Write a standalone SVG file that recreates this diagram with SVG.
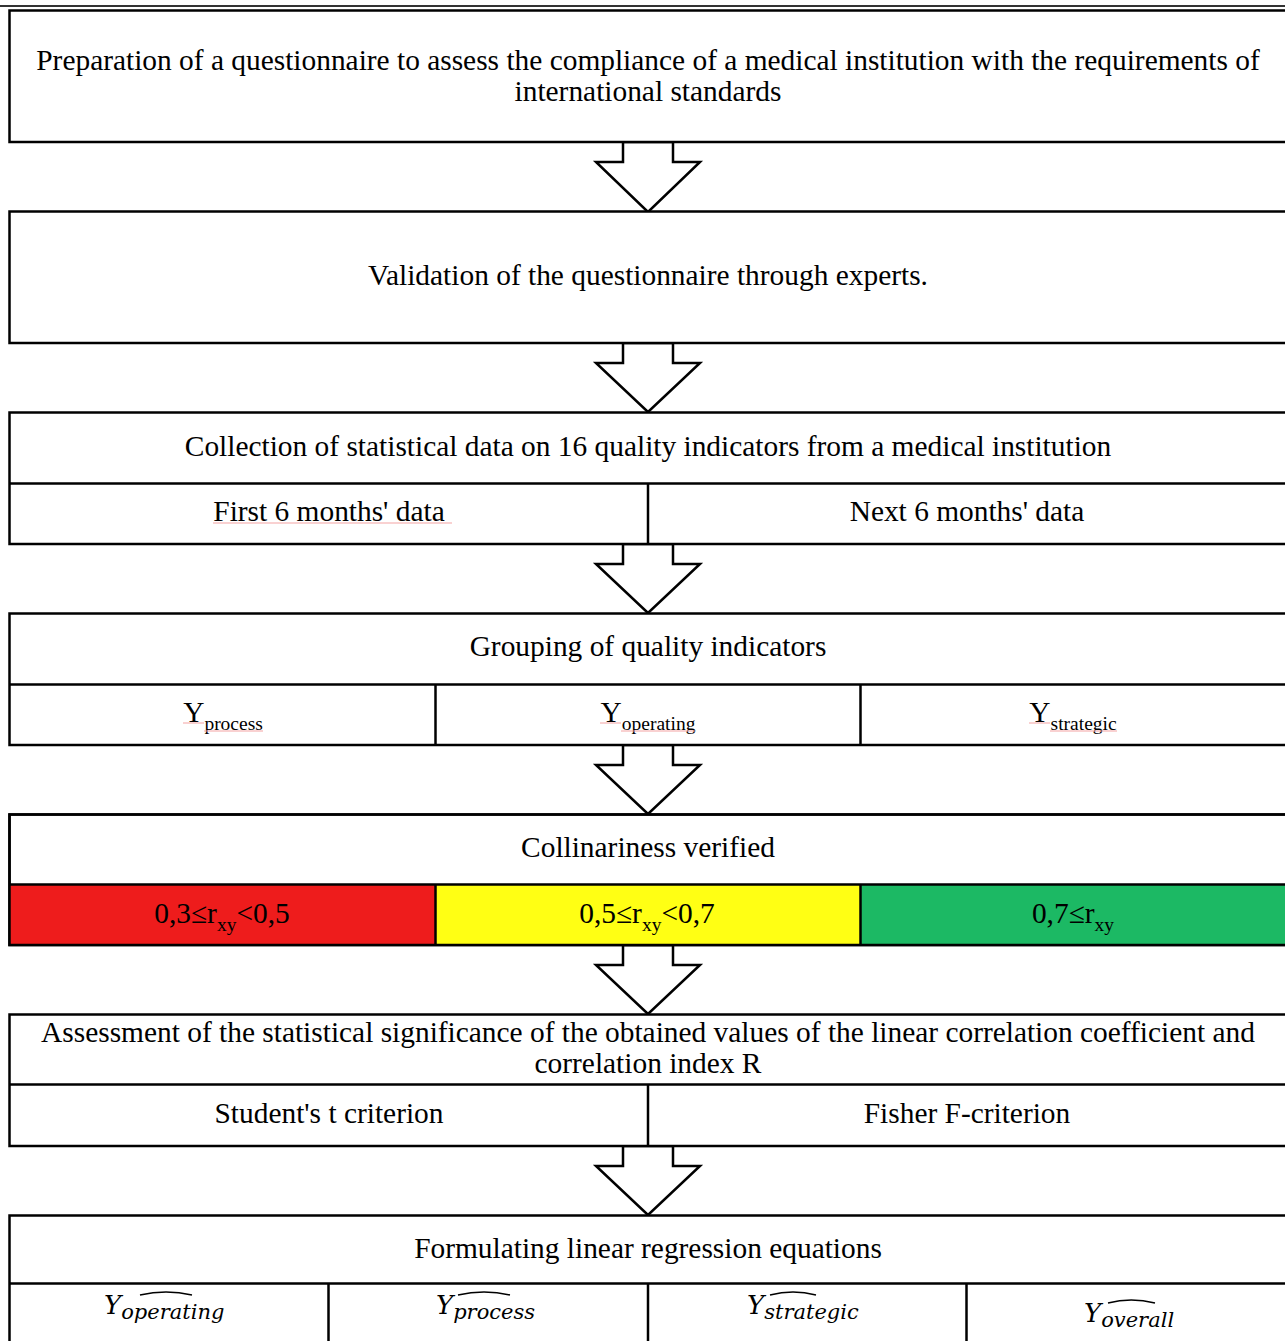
<svg xmlns="http://www.w3.org/2000/svg" width="1285" height="1341" viewBox="0 0 1285 1341">
<style>
.box{fill:#fff;stroke:#000;stroke-width:2.5}
.ln{stroke:#000;stroke-width:2.5;fill:none}
.arr{fill:#fff;stroke:#000;stroke-width:2.5;stroke-linejoin:miter}
.t{font-family:"Liberation Serif","Times New Roman",serif;font-size:29.4px;fill:#000;text-anchor:middle}
.s{font-size:19.5px}
.m{font-family:"DejaVu Serif","Liberation Serif",serif;font-style:italic;font-size:26px;fill:#000}
.ms{font-size:21px}
.hat{fill:none;stroke:#000;stroke-width:1.5}
.sp{stroke:#f3a3a3;stroke-width:1;fill:none}
</style>
<rect width="1285" height="1341" fill="#fff"/>
<line x1="0" y1="6" x2="1285" y2="6" stroke="#333" stroke-width="2"/>

<g id="connectors">
<polygon class="arr" points="623,142 623,162 596,162 648,212 700,162 673,162 673,142"/>
<polygon class="arr" points="623,343 623,363 596,363 648,412 700,363 673,363 673,343"/>
<polygon class="arr" points="623,544 623,564 596,564 648,613 700,564 673,564 673,544"/>
<polygon class="arr" points="623,745 623,765 596,765 648,814 700,765 673,765 673,745"/>
<polygon class="arr" points="623,945 623,965 596,965 648,1014 700,965 673,965 673,945"/>
<polygon class="arr" points="623,1146 623,1166 596,1166 648,1215 700,1166 673,1166 673,1146"/>
</g>

<g id="n1">
<rect class="box" x="9.5" y="10.5" width="1285" height="131.5"/>
<text class="t" x="648" y="70">Preparation of a questionnaire to assess the compliance of a medical institution with the requirements of</text>
<text class="t" x="648" y="101">international standards</text>
</g>

<g id="n2">
<rect class="box" x="9.5" y="211.5" width="1285" height="131.5"/>
<text class="t" x="648" y="285">Validation of the questionnaire through experts.</text>
</g>

<g id="n3">
<rect class="box" x="9.5" y="412.5" width="1285" height="131.5"/>
<line class="ln" x1="9.5" y1="483.5" x2="1285" y2="483.5"/>
<line class="ln" x1="648" y1="483.5" x2="648" y2="544"/>
<text class="t" x="648" y="456">Collection of statistical data on 16 quality indicators from a medical institution</text>
<text class="t" x="329" y="521">First 6 months' data</text>
<line class="sp" x1="213" y1="523" x2="452" y2="523"/>
<text class="t" x="967" y="521">Next 6 months' data</text>
</g>

<g id="n4">
<rect class="box" x="9.5" y="613.5" width="1285" height="131.5"/>
<line class="ln" x1="9.5" y1="684.5" x2="1285" y2="684.5"/>
<line class="ln" x1="435.5" y1="684.5" x2="435.5" y2="745"/>
<line class="ln" x1="860.5" y1="684.5" x2="860.5" y2="745"/>
<text class="t" x="648" y="656">Grouping of quality indicators</text>
<text class="t" x="223" y="722">Y<tspan class="s" dy="8">process</tspan></text>
<text class="t" x="648" y="722">Y<tspan class="s" dy="8">operating</tspan></text>
<text class="t" x="1073" y="722">Y<tspan class="s" dy="8">strategic</tspan></text>
<path class="sp" d="M183 723 H204 M204 731 H263"/>
<path class="sp" d="M600 723 H621 M621 731 H695"/>
<path class="sp" d="M1029 723 H1050 M1050 731 H1117"/>
</g>

<g id="n5">
<rect class="box" x="9.5" y="814.5" width="1285" height="130.5"/>
<rect x="10" y="885" width="425.5" height="59" fill="#ee1c1c"/>
<rect x="435.5" y="885" width="425" height="59" fill="#ffff14"/>
<rect x="860.5" y="885" width="424.5" height="59" fill="#1cb964"/>
<line class="ln" x1="9.5" y1="884.5" x2="1285" y2="884.5"/>
<line class="ln" x1="435.5" y1="884.5" x2="435.5" y2="945"/>
<line class="ln" x1="860.5" y1="884.5" x2="860.5" y2="945"/>
<rect class="ln" x="9.5" y="814.5" width="1285" height="130.5"/>
<text class="t" x="648" y="857">Collinariness verified</text>
<text class="t" x="222" y="923">0,3≤r<tspan class="s" dy="8">xy</tspan><tspan dy="-8">&lt;0,5</tspan></text>
<text class="t" x="647" y="923">0,5≤r<tspan class="s" dy="8">xy</tspan><tspan dy="-8">&lt;0,7</tspan></text>
<text class="t" x="1073" y="923">0,7≤r<tspan class="s" dy="8">xy</tspan></text>
</g>

<g id="n6">
<rect class="box" x="9.5" y="1014.5" width="1285" height="131.5"/>
<line class="ln" x1="9.5" y1="1084.5" x2="1285" y2="1084.5"/>
<line class="ln" x1="648" y1="1084.5" x2="648" y2="1146"/>
<text class="t" x="648" y="1042">Assessment of the statistical significance of the obtained values of the linear correlation coefficient and</text>
<text class="t" x="648" y="1073">correlation index R</text>
<text class="t" x="329" y="1123">Student's t criterion</text>
<text class="t" x="967" y="1123">Fisher F-criterion</text>
</g>

<g id="n7">
<rect class="box" x="9.5" y="1215.5" width="1285" height="140"/>
<line class="ln" x1="9.5" y1="1283.5" x2="1285" y2="1283.5"/>
<line class="ln" x1="328.5" y1="1283.5" x2="328.5" y2="1341"/>
<line class="ln" x1="648" y1="1283.5" x2="648" y2="1341"/>
<line class="ln" x1="966.5" y1="1283.5" x2="966.5" y2="1341"/>
<text class="t" x="648" y="1258">Formulating linear regression equations</text>
<text class="m" x="104" y="1314">Y<tspan class="ms" dy="5">operating</tspan></text>
<path class="hat" d="M140 1295 Q166 1289 192 1295"/>
<text class="m" x="436" y="1314">Y<tspan class="ms" dy="5">process</tspan></text>
<path class="hat" d="M458 1295 Q484 1289 510 1295"/>
<text class="m" x="747" y="1314">Y<tspan class="ms" dy="5">strategic</tspan></text>
<path class="hat" d="M770 1295 Q793 1289 816 1295"/>
<text class="m" x="1084" y="1322">Y<tspan class="ms" dy="5">overall</tspan></text>
<path class="hat" d="M1108 1303 Q1131 1297 1155 1303"/>
</g>
</svg>
